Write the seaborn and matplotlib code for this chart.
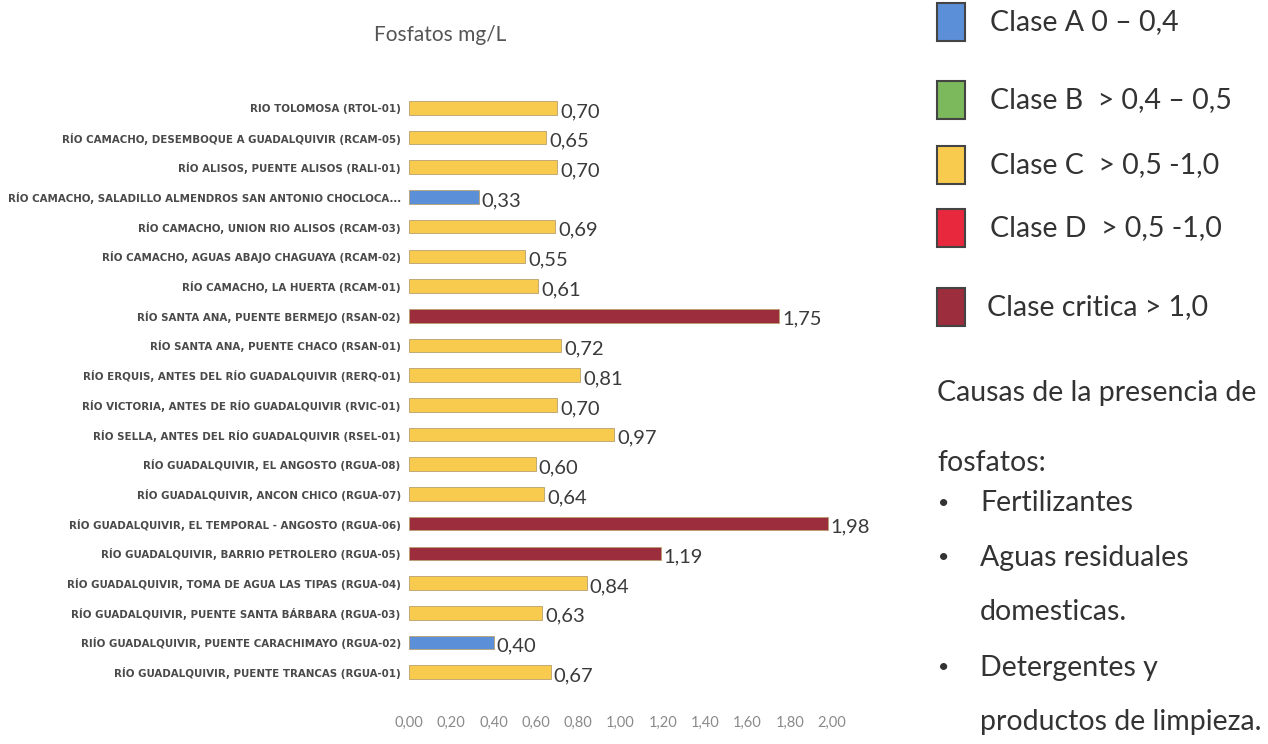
import matplotlib
matplotlib.use("Agg")
import matplotlib.pyplot as plt
from matplotlib.patches import Rectangle
from matplotlib import font_manager
import seaborn as sns
import pandas as pd

stations = [
    "RIO TOLOMOSA (RTOL-01)",
    "RÍO CAMACHO, DESEMBOQUE A GUADALQUIVIR (RCAM-05)",
    "RÍO ALISOS, PUENTE ALISOS (RALI-01)",
    "RÍO CAMACHO, SALADILLO ALMENDROS SAN ANTONIO CHOCLOCA...",
    "RÍO CAMACHO, UNION RIO ALISOS (RCAM-03)",
    "RÍO CAMACHO, AGUAS ABAJO CHAGUAYA (RCAM-02)",
    "RÍO CAMACHO, LA HUERTA (RCAM-01)",
    "RÍO SANTA ANA, PUENTE BERMEJO (RSAN-02)",
    "RÍO SANTA ANA, PUENTE CHACO (RSAN-01)",
    "RÍO ERQUIS, ANTES DEL RÍO GUADALQUIVIR (RERQ-01)",
    "RÍO VICTORIA, ANTES DE RÍO GUADALQUIVIR (RVIC-01)",
    "RÍO SELLA, ANTES DEL RÍO GUADALQUIVIR (RSEL-01)",
    "RÍO GUADALQUIVIR, EL ANGOSTO (RGUA-08)",
    "RÍO GUADALQUIVIR, ANCON CHICO (RGUA-07)",
    "RÍO GUADALQUIVIR, EL TEMPORAL - ANGOSTO (RGUA-06)",
    "RÍO GUADALQUIVIR, BARRIO PETROLERO (RGUA-05)",
    "RÍO GUADALQUIVIR, TOMA DE AGUA LAS TIPAS (RGUA-04)",
    "RÍO GUADALQUIVIR, PUENTE SANTA BÁRBARA (RGUA-03)",
    "RIÍO GUADALQUIVIR, PUENTE CARACHIMAYO (RGUA-02)",
    "RÍO GUADALQUIVIR, PUENTE TRANCAS (RGUA-01)",
]
values = [0.70, 0.65, 0.70, 0.33, 0.69, 0.55, 0.61, 1.75, 0.72, 0.81,
          0.70, 0.97, 0.60, 0.64, 1.98, 1.19, 0.84, 0.63, 0.40, 0.67]
classes = ["C", "C", "C", "A", "C", "C", "C", "Crit", "C", "C",
           "C", "C", "C", "C", "Crit", "Crit", "C", "C", "A", "C"]

legend_keys = ["A", "B", "C", "D", "Crit"]
legend_labels = ["Clase A 0 – 0,4", "Clase B  > 0,4 – 0,5", "Clase C  > 0,5 -1,0",
                 "Clase D  > 0,5 -1,0", "Clase critica > 1,0"]
class_colors = {"A": "#5B8FD8", "B": "#7CB85C", "C": "#F8CB4E", "D": "#E8283C", "Crit": "#9B2D3C"}

title = "Fosfatos mg/L"
xticks = [0.0, 0.2, 0.4, 0.6, 0.8, 1.0, 1.2, 1.4, 1.6, 1.8, 2.0]
xtick_labels = ["0,00", "0,20", "0,40", "0,60", "0,80", "1,00", "1,20", "1,40", "1,60", "1,80", "2,00"]

causes_title = ["Causas de la presencia de", "fosfatos:"]
causes = [["Fertilizantes"], ["Aguas residuales", "domesticas."], ["Detergentes y", "productos de limpieza."]]

df = pd.DataFrame({"station": stations, "value": values, "cls": classes})

sns.set_style("white")
plt.rcParams["font.family"] = ["Lato", "DejaVu Sans"]

installed = {f.name for f in font_manager.fontManager.ttflist}
if "Liberation Sans Narrow" in installed:
    ylab_family, ylab_size = "Liberation Sans Narrow", 9.3
else:
    ylab_family, ylab_size = "DejaVu Sans", 7.35

W, H = 1268, 744
fig = plt.figure(figsize=(W / 100, H / 100), dpi=100)
ax = fig.add_axes([409 / W, 1 - 687 / H, 423 / W, 594 / H])

sns.barplot(data=df, y="station", x="value", hue="cls", palette=class_colors,
            dodge=False, orient="h", width=0.46, edgecolor="#b8a070",
            linewidth=0.6, legend=False, ax=ax, order=stations, saturation=1)

ax.set_xlim(0, 2.0)
ax.set_ylim(19.5, -0.5)
ax.set_xticks(xticks)
ax.set_xticklabels(xtick_labels, fontsize=10.5, color="#8a8a8a")
ax.tick_params(axis="x", length=0, pad=21)
ax.tick_params(axis="y", length=0, pad=6)
for lab in ax.get_yticklabels():
    lab.set_fontfamily(ylab_family)
    lab.set_fontweight("bold")
    lab.set_fontsize(ylab_size)
    lab.set_color("#4a4a4a")
ax.set_xlabel("")
ax.set_ylabel("")
for s in ax.spines.values():
    s.set_visible(False)
ax.grid(False)

for i, v in enumerate(values):
    ax.text(v + 0.014, i + 0.12, f"{v:.2f}".replace(".", ","), fontsize=14.5,
            color="#3a3a3a", va="center", ha="left")

fig.text(440 / W, 1 - 35 / H, title, fontsize=15, color="#555555", ha="center", va="center")

# legend
leg_y = [22, 100, 165, 228, 307]
for key, lab, y in zip(legend_keys, legend_labels, leg_y):
    fig.patches.append(Rectangle((937 / W, 1 - (y + 19) / H), 28 / W, 38 / H,
                                 transform=fig.transFigure, facecolor=class_colors[key],
                                 edgecolor="#444444", linewidth=1.5))
    fig.text((990 if key != "Crit" else 987) / W, 1 - y / H, lab, fontsize=20.5,
             color="#333333", ha="left", va="center")

fig.text(937 / W, 1 - 393 / H, causes_title[0], fontsize=20.5, color="#333333", ha="left", va="center")
fig.text(937 / W, 1 - 463 / H, causes_title[1], fontsize=20.5, color="#333333", ha="left", va="center")
rows = [[503], [558, 612], [668, 722]]
for lines, ys in zip(causes, rows):
    fig.text(944 / W, 1 - ys[0] / H, "•", fontsize=14, color="#333333", ha="center", va="center")
    for t, y in zip(lines, ys):
        fig.text(980 / W, 1 - y / H, t, fontsize=20.5, color="#333333", ha="left", va="center")

fig.savefig("out.png", dpi=100)
